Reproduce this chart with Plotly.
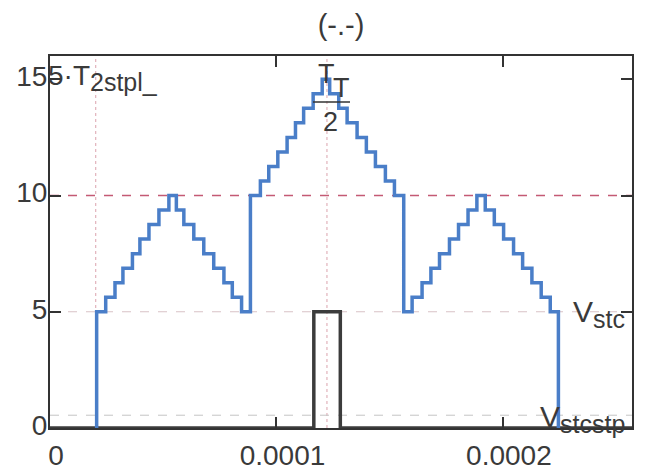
import plotly.graph_objects as go

# ---- data (times in microseconds, values in volts) ----
blue_times_us = [
    20.6, 24.6, 28.7, 32.2, 36.4, 39.7, 43.7, 48.1, 52.5, 55.8, 59.1, 63.5, 67.9, 72.3, 76.8, 80.5, 84.6,
    88.5, 92.9, 96.6, 100.6, 104.7, 108.4, 112.0, 116.2, 120.2, 123.5, 127.5, 131.2, 135.6, 139.7, 143.7, 148.1, 152.1,
    156.2, 159.9, 164.3, 168.2, 172.0, 176.4, 180.4, 184.6, 188.5, 192.2, 196.2, 200.3, 204.7, 208.7, 212.8, 216.9, 220.9,
]
blue_end_us = 224.5
blue_levels = [
    5, 5.625, 6.25, 6.875, 7.5, 8.125, 8.75, 9.375, 10, 9.375, 8.75, 8.125, 7.5, 6.875, 6.25, 5.625, 5,
    10, 10.625, 11.25, 11.875, 12.5, 13.125, 13.75, 14.375, 15, 14.375, 13.75, 13.125, 12.5, 11.875, 11.25, 10.625, 10,
    5, 5.625, 6.25, 6.875, 7.5, 8.125, 8.75, 9.375, 10, 9.375, 8.75, 8.125, 7.5, 6.875, 6.25, 5.625, 5,
]
black_times_us = [0, 116.5, 128.2, 257.0]
black_levels = [0, 5, 0, 0]

v_markers_us = [20.2, 122.3]          # 5*T_2stpl_ , T/2
h_marker_stc = 5.0                     # V_stc
h_marker_stcstp = 0.55                 # V_stcstp
h_marker_red = 10.0

x_range_us = [0, 257.0]
y_range = [0, 16]
x_tick_vals = [0, 1e-4, 2e-4]
x_tick_text = ["0", "0.0001", "0.0002"]
y_tick_vals = [0, 5, 10, 15]

us = 1e-6
bx = [blue_times_us[0] * us] + [t * us for t in blue_times_us] + [blue_end_us * us]
by = [0] + blue_levels + [0]
kx = [t * us for t in black_times_us]

FONT = "Liberation Sans, Arial, sans-serif"
TXT = "#3a3a3a"

fig = go.Figure()
fig.add_trace(go.Scatter(x=kx, y=black_levels, mode="lines", line_shape="hv",
                         line=dict(color="#3c3c3c", width=3.5), showlegend=False))
fig.add_trace(go.Scatter(x=bx, y=by, mode="lines", line_shape="hv",
                         line=dict(color="#4a7ec8", width=3.5), showlegend=False))

# page has an 8px body margin -> figure drawn at offset (8, 8)
OFF = 8
W, H = 646 - OFF, 475 - OFF
L, T = 50 - OFF, 56 - OFF
PW, PH = 582, 372
def px(x): return (x - 50) / PW          # page pixel -> paper
def py(y): return (428 - y) / PH         # page pixel -> paper

shapes = []
for v in v_markers_us:
    shapes.append(dict(type="line", xref="x", yref="paper", x0=v * us, x1=v * us, y0=0, y1=1,
                       line=dict(color="#dba3ad", width=1, dash="dot"), layer="below"))
shapes.append(dict(type="line", xref="paper", yref="y", x0=0, x1=1, y0=h_marker_red, y1=h_marker_red,
                   line=dict(color="#c45a74", width=1.5, dash="dash"), layer="below"))
shapes.append(dict(type="line", xref="paper", yref="y", x0=0, x1=1, y0=h_marker_stc, y1=h_marker_stc,
                   line=dict(color="#d8c2c6", width=1, dash="dash"), layer="below"))
shapes.append(dict(type="line", xref="paper", yref="y", x0=0, x1=1, y0=h_marker_stcstp, y1=h_marker_stcstp,
                   line=dict(color="#c4c4c4", width=1, dash="dash"), layer="below"))
# fraction bar of the T/2 label
shapes.append(dict(type="line", xref="paper", yref="paper", x0=px(313), x1=px(350), y0=py(102), y1=py(102),
                   line=dict(color="#333333", width=1.5)))

def sub(s, size=25):
    return "<sub><span style='font-size:%dpx'>%s</span></sub>" % (size, s)

ann = [
    dict(text="5·T" + sub("2stpl_"), x=px(46), y=py(58), xanchor="left", yanchor="top", size=28),
    dict(text="T", x=px(326), y=py(74), xanchor="center", yanchor="middle", size=27),
    dict(text="T", x=px(341), y=py(88), xanchor="center", yanchor="middle", size=27),
    dict(text="2", x=px(330), y=py(122), xanchor="center", yanchor="middle", size=27),
    dict(text="V" + sub("stc"), x=px(627), y=py(314), xanchor="right", yanchor="middle", size=30),
    dict(text="V" + sub("stcstp"), x=px(627), y=py(419), xanchor="right", yanchor="middle", size=30),
]
annotations = [dict(text=a["text"], x=a["x"], y=a["y"], xref="paper", yref="paper",
                    xanchor=a["xanchor"], yanchor=a["yanchor"], showarrow=False,
                    font=dict(family=FONT, size=a["size"], color=TXT)) for a in ann]

axis_common = dict(showgrid=False, zeroline=False, showline=True, linecolor="#333333", linewidth=2,
                   mirror="ticks", ticks="inside", ticklen=11, tickwidth=1.5, tickcolor="#333333",
                   automargin=False, tickfont=dict(family=FONT, size=28, color=TXT))

fig.update_layout(
    width=W, height=H,
    margin=dict(l=L, r=W - L - PW, t=T, b=H - T - PH, autoexpand=False),
    paper_bgcolor="white", plot_bgcolor="white",
    title=dict(text="(-.-)", x=px(341), xref="paper", xanchor="center", y=1 - (25 - OFF) / H,
               yref="container", yanchor="middle", automargin=False,
               font=dict(family=FONT, size=29, color=TXT)),
    xaxis=dict(range=[x_range_us[0] * us, x_range_us[1] * us], tickmode="array",
               tickvals=x_tick_vals, ticktext=x_tick_text, ticklabelshift=6, ticklabelstandoff=1,
               **axis_common),
    yaxis=dict(range=y_range, tickmode="array", tickvals=y_tick_vals, ticklabelshift=-3,
               ticklabelstandoff=-5, **axis_common),
    shapes=shapes, annotations=annotations,
)

fig.write_html("out.html")
